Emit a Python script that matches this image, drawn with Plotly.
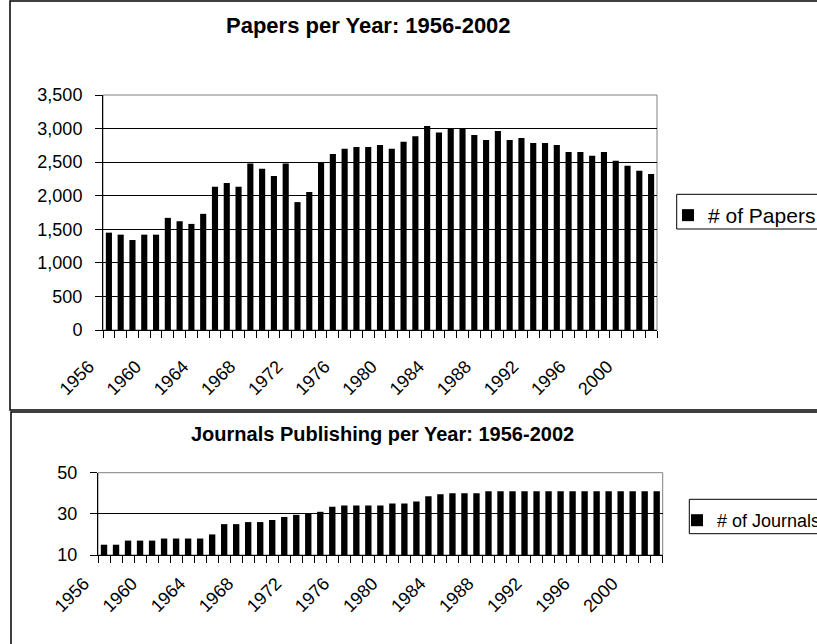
import plotly.graph_objects as go

# ---- data -------------------------------------------------------------
years = list(range(1956, 2003))
label_years = [1956, 1960, 1964, 1968, 1972, 1976, 1980, 1984, 1988, 1992, 1996, 2000]

papers = [1450, 1420, 1340, 1420, 1420, 1670, 1620, 1580, 1730, 2135,
          2190, 2135, 2480, 2400, 2295, 2480, 1905, 2055, 2500, 2620,
          2700, 2725, 2725, 2755, 2700, 2805, 2885, 3040, 2940, 3010,
          3010, 2905, 2830, 2965, 2830, 2860, 2785, 2785, 2755, 2650,
          2650, 2595, 2650, 2520, 2445, 2370, 2325]

journals = [15, 15, 17, 17, 17, 18, 18, 18, 18, 20,
            25, 25, 26, 26, 27, 28.5, 29.5, 30, 31, 33.5,
            34, 34, 34, 34, 35, 35, 36, 38.5, 39.5, 40,
            40, 40, 41, 41, 41, 41, 41, 41, 41, 41,
            41, 41, 41, 41, 41, 41, 41]

papers_yticks = [0, 500, 1000, 1500, 2000, 2500, 3000, 3500]
journals_yticks = [10, 30, 50]

# ---- page geometry (pixels) ------------------------------------------
W, H = 817, 644
FONT = "Liberation Sans, Arial, sans-serif"


def px(x):
    return x / W


def py(y):
    return 1 - y / H


xlabels = [str(y) if y in label_years else "" for y in years]
xcats = [str(y) for y in years]

fig = go.Figure()

fig.add_trace(go.Bar(
    x=xcats, y=papers, name="# of Papers",
    marker=dict(color="black", line=dict(width=0)),
    width=0.52, xaxis="x", yaxis="y", legend="legend",
))
fig.add_trace(go.Bar(
    x=xcats, y=journals, name="# of Journals",
    marker=dict(color="black", line=dict(width=0)),
    width=0.53, xaxis="x2", yaxis="y2", legend="legend2",
))

common_x = dict(
    type="category",
    tickmode="array", tickvals=xcats, ticktext=xlabels,
    tickson="boundaries", ticks="outside", ticklen=7, tickcolor="black",
    tickangle=-45, showline=True, linecolor="black", linewidth=1,
    showgrid=False, zeroline=False,
    tickfont=dict(family=FONT, size=18, color="black"),
    ticklabelshift=-20,
)
common_y = dict(
    ticks="outside", ticklen=7, tickcolor="black",
    showline=True, linecolor="black", linewidth=1,
    showgrid=True, gridcolor="black", gridwidth=1, zeroline=False,
    tickfont=dict(family=FONT, size=18, color="black"),
    ticklabelstandoff=9,
)

legend_style = dict(
    xanchor="left", yanchor="top",
    orientation="h", entrywidth=200,
    borderwidth=0, bgcolor="rgba(0,0,0,0)",
)

fig.update_layout(
    width=W, height=H,
    margin=dict(l=0, r=0, t=0, b=0, autoexpand=False),
    paper_bgcolor="white", plot_bgcolor="white",
    showlegend=True,
    xaxis=dict(domain=[px(103), px(657)], anchor="y", ticklabelstandoff=18, **common_x),
    yaxis=dict(domain=[py(330), py(95)], anchor="x", range=[0, 3500],
               tickmode="array", tickvals=papers_yticks,
               ticktext=[f"{v:,}" for v in papers_yticks], **common_y),
    xaxis2=dict(domain=[px(98), px(662.7)], anchor="y2", ticklabelstandoff=10, **common_x),
    yaxis2=dict(domain=[py(555), py(472.7)], anchor="x2", range=[10, 50],
                tickmode="array", tickvals=journals_yticks, **common_y),
    legend=dict(x=px(668), y=py(195), font=dict(family=FONT, size=21, color="black"),
                **legend_style),
    legend2=dict(x=px(677), y=py(502), font=dict(family=FONT, size=18, color="black"),
                 **legend_style),
)

# chart titles
fig.add_annotation(text="<b>Papers per Year: 1956-2002</b>", xref="paper", yref="paper",
                   x=px(368), y=py(25), xanchor="center", yanchor="middle",
                   showarrow=False, font=dict(family=FONT, size=22, color="black"))
fig.add_annotation(text="<b>Journals Publishing per Year: 1956-2002</b>", xref="paper", yref="paper",
                   x=px(382), y=py(434), xanchor="center", yanchor="middle",
                   showarrow=False, font=dict(family=FONT, size=20, color="black"))

# legend frames
fig.add_shape(type="rect", xref="paper", yref="paper",
              x0=px(676.7), x1=px(840), y0=py(229), y1=py(194.3),
              line=dict(color="black", width=1))
fig.add_shape(type="rect", xref="paper", yref="paper",
              x0=px(689.3), x1=px(840), y0=py(533.7), y1=py(499.3),
              line=dict(color="black", width=1))

# plot-area frames (grey) and chart-area frames (black)
for xr, yr in (("x domain", "y domain"), ("x2 domain", "y2 domain")):
    fig.add_shape(type="rect", xref=xr, yref=yr, x0=0, x1=1, y0=0, y1=1,
                  line=dict(color="#808080", width=1), layer="below")
fig.add_shape(type="rect", xref="paper", yref="paper",
              x0=px(10), x1=px(840), y0=py(410), y1=py(1),
              line=dict(color="black", width=1.5))
fig.add_shape(type="rect", xref="paper", yref="paper",
              x0=px(11), x1=px(840), y0=py(670), y1=py(412),
              line=dict(color="black", width=1.5))

fig.write_html("out.html")
